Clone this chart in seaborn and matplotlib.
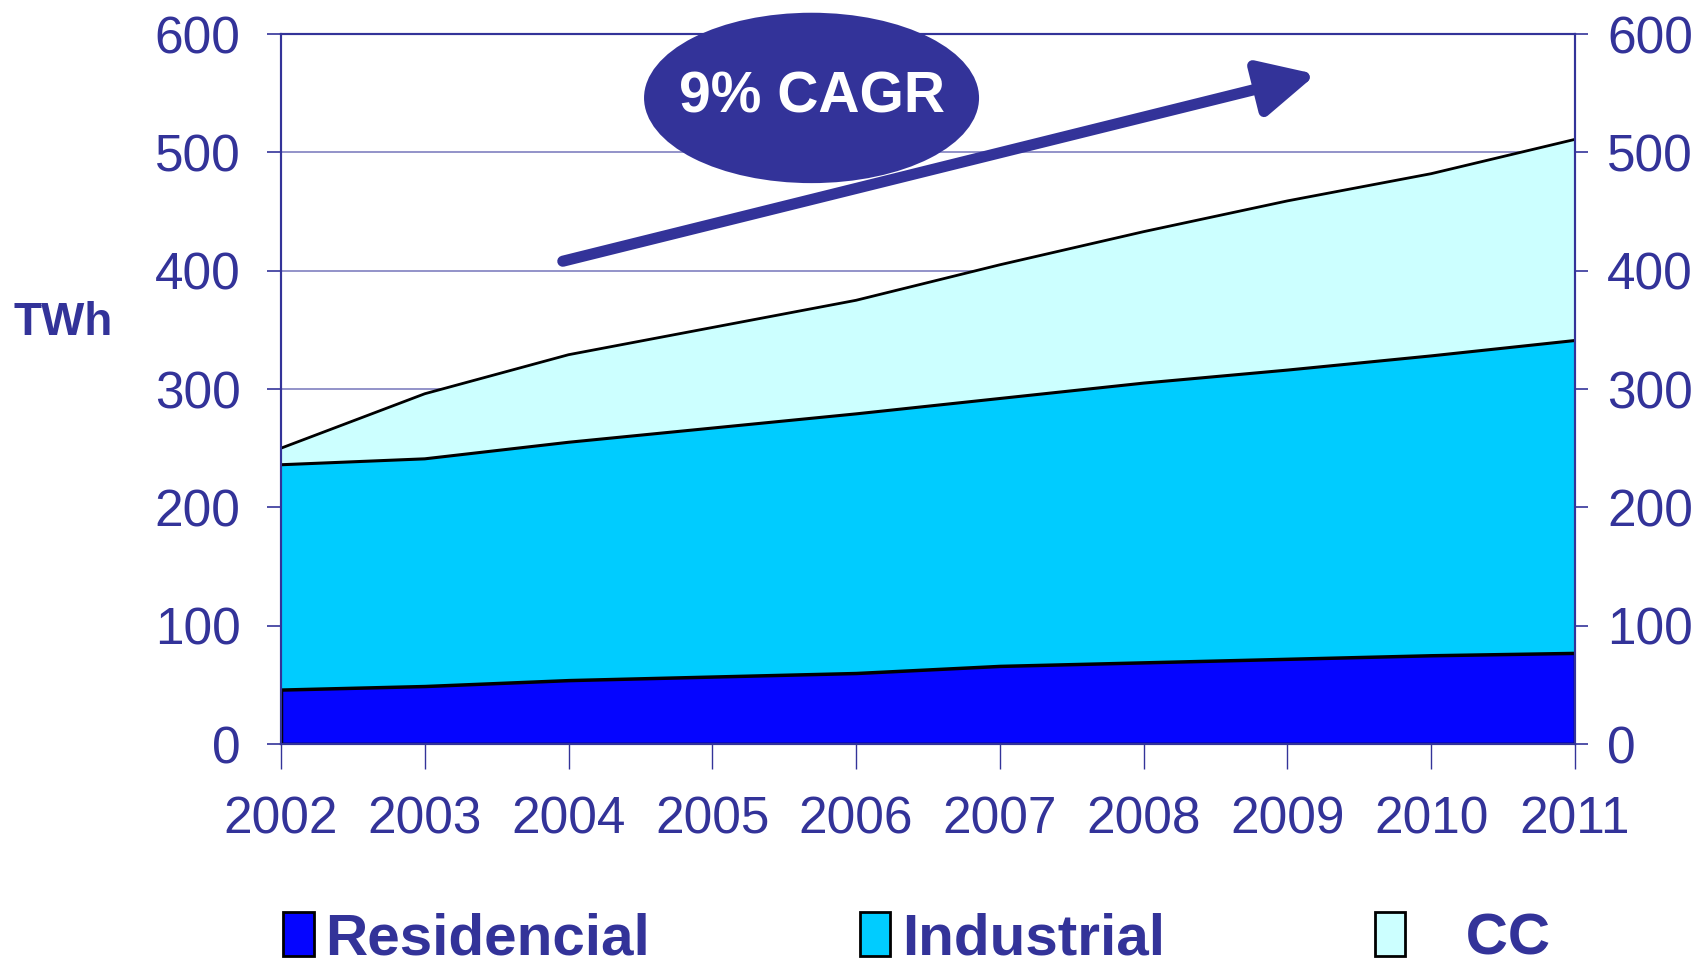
import numpy as np
import pandas as pd
import matplotlib
matplotlib.use("Agg")
import matplotlib.pyplot as plt
from matplotlib.patches import Ellipse, Patch
import seaborn as sns

# --- DATA (TWh) ---
years = [2002, 2003, 2004, 2005, 2006, 2007, 2008, 2009, 2010, 2011]
residencial = [46, 49, 54, 57, 60, 66, 69, 72, 75, 77]
industrial = [190, 192, 201, 210, 219, 226, 236, 244, 253, 264]
cc = [14, 55, 74, 85, 96, 113, 128, 143, 154, 170]
series_names = ["Residencial", "Industrial", "CC"]
series_colors = ["#0505FF", "#00CCFF", "#CCFFFF"]
y_ticks = [0, 100, 200, 300, 400, 500, 600]
cagr_text = "9% CAGR"

NAVY = "#333399"
FONT = "Liberation Sans"

sns.set_theme(style="white")
plt.rcParams["font.family"] = [FONT, "DejaVu Sans"]

df = pd.DataFrame({"year": years, "Residencial": residencial,
                   "Industrial": industrial, "CC": cc})
df["top_res"] = df["Residencial"]
df["top_ind"] = df["top_res"] + df["Industrial"]
df["top_cc"] = df["top_ind"] + df["CC"]

fig = plt.figure(figsize=(17.07, 9.64), dpi=100)
ax = fig.add_axes([0.1646, 0.2282, 0.9227 - 0.1646, 0.9647 - 0.2282])

# filled layers
ax.fill_between(df["year"], df["top_ind"], df["top_cc"], color=series_colors[2], lw=0, zorder=1)
ax.fill_between(df["year"], df["top_res"], df["top_ind"], color=series_colors[1], lw=0, zorder=1)
ax.fill_between(df["year"], 0, df["top_res"], facecolor=series_colors[0],
                edgecolor="black", lw=2.5, zorder=2)

# outlines
sns.lineplot(data=df, x="year", y="top_cc", color="black", lw=2, ax=ax, zorder=3)
sns.lineplot(data=df, x="year", y="top_ind", color="black", lw=2.2, ax=ax, zorder=3)

ax.set_xlim(years[0], years[-1])
ax.set_ylim(0, 600)
ax.set_xticks(years)
ax.set_xticklabels([str(y) for y in years])
ax.set_yticks(y_ticks)
ax.set_xlabel("")
ax.set_ylabel("")
ax.grid(axis="y", color="#8080C0", lw=1.2, zorder=0)
ax.set_axisbelow(True)
for s in ax.spines.values():
    s.set_color(NAVY)
    s.set_linewidth(1.5)

ax.tick_params(axis="y", colors=NAVY, labelsize=37, length=10, width=1.2, pad=19, left=True)
ax.tick_params(axis="x", colors=NAVY, labelsize=37, length=18, width=1, pad=19, bottom=True)
for lab in ax.get_yticklabels() + ax.get_xticklabels():
    lab.set_color(NAVY)

ax2 = ax.twinx()
ax2.set_ylim(0, 600)
ax2.set_yticks(y_ticks)
ax2.grid(False)
ax2.tick_params(axis="y", colors=NAVY, labelsize=37, length=9, width=1.2, pad=14, right=True)
for lab in ax2.get_yticklabels():
    lab.set_color(NAVY)
for s in ax2.spines.values():
    s.set_color(NAVY)
    s.set_linewidth(1.5)

# growth arrow and CAGR bubble
ax.annotate("", xy=(2009.2, 566), xytext=(2003.96, 408),
            arrowprops=dict(arrowstyle="-|>", color=NAVY, lw=8, mutation_scale=85,
                            shrinkA=0, shrinkB=0),
            annotation_clip=False, zorder=4)
ell = Ellipse((2005.69, 546), width=2.33, height=144, facecolor=NAVY,
              edgecolor="none", clip_on=False, zorder=5)
ax.add_patch(ell)
ax.text(2005.69, 546, cagr_text, color="white", fontsize=41, fontweight="bold",
        ha="center", va="center", zorder=6, clip_on=False)

fig.text(0.037, 0.665, "TWh", color=NAVY, fontsize=33, fontweight="bold",
         ha="center", va="center")

handles = [Patch(facecolor=c, edgecolor="black", lw=2) for c in series_colors]
labels = ["Residencial", "Industrial", "   CC"]
leg = fig.legend(handles, labels, loc="center", bbox_to_anchor=(0.537, 0.026), ncol=3,
                 frameon=False, fontsize=42, handlelength=0.52, handleheight=0.8,
                 handletextpad=0.2, columnspacing=3.6, borderpad=0)
for t in leg.get_texts():
    t.set_color(NAVY)
    t.set_fontweight("bold")

fig.savefig("out.png", dpi=100)
